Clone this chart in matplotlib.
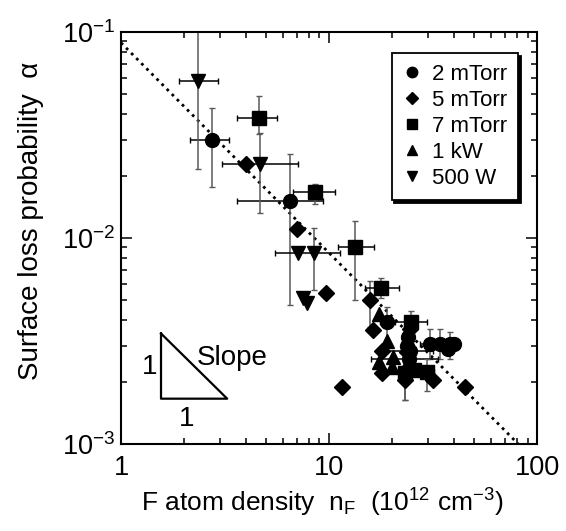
import numpy as np
import matplotlib
matplotlib.use('Agg')
import matplotlib.pyplot as plt
from matplotlib.ticker import LogLocator, FixedLocator, FixedFormatter, NullFormatter

plt.rcParams['font.family'] = ['Liberation Sans', 'DejaVu Sans']
plt.rcParams['mathtext.default'] = 'regular'

# ---- data ----
# 2 mTorr
c_x = [2.73, 6.49, 18.9, 24.0, 23.8, 24.5, 24.2, 30.6, 34.2, 38.2, 39.9, 37.5]
c_y = [0.0299, 0.0152, 0.0039, 0.0033, 0.0030, 0.00284, 0.0026, 0.00305, 0.00305, 0.00305, 0.00305, 0.0029]
c_xlo = [2.15, 3.62, 17.6, np.nan, np.nan, 19.1, 16.0, 27.5, np.nan, np.nan, np.nan, np.nan]
c_xhi = [3.30, 9.33, 20.4, np.nan, np.nan, 31.5, 33.3, 33.5, np.nan, np.nan, np.nan, np.nan]
c_ylo = [0.0177, 0.00473, 0.00321, np.nan, np.nan, np.nan, np.nan, 0.0026, 0.0026, 0.0026, np.nan, np.nan]
c_yhi = [0.0428, 0.0255, 0.00465, np.nan, np.nan, np.nan, np.nan, 0.0036, 0.0036, 0.0035, np.nan, np.nan]

# 5 mTorr
d_x = [3.98, 7.04, 9.64, 11.6, 15.7, 16.3, 17.9, 17.9, 23.2, 24.5, 23.6, 31.7, 45.1]
d_y = [0.0228, 0.0110, 0.0054, 0.0019, 0.0050, 0.00357, 0.00284, 0.00222, 0.00205, 0.0036, 0.0028, 0.00205, 0.0019]
d_xlo = [np.nan] * 13
d_xhi = [np.nan] * 13
d_ylo = [np.nan, np.nan, np.nan, np.nan, 0.0037, np.nan, np.nan, np.nan, 0.00164, np.nan, np.nan, np.nan, np.nan]
d_yhi = [np.nan, np.nan, np.nan, np.nan, 0.0062, np.nan, np.nan, np.nan, 0.0024, np.nan, np.nan, np.nan, np.nan]

# 7 mTorr
s_x = [4.61, 8.57, 13.3, 17.8, 24.8, 23.2, 29.5, 25.5]
s_y = [0.0381, 0.0167, 0.0090, 0.00574, 0.0039, 0.00222, 0.00224, 0.0023]
s_xlo = [3.61, 6.69, 11.0, 14.9, 20.7, np.nan, 27.0, np.nan]
s_xhi = [5.62, 10.7, 16.5, 21.7, 29.5, np.nan, 32.0, np.nan]
s_ylo = [0.0319, 0.0146, 0.0050, 0.0051, 0.0036, 0.00164, 0.0018, np.nan]
s_yhi = [0.0489, 0.0182, 0.0121, 0.00637, 0.0044, 0.0024, 0.0026, np.nan]

# 1 kW
u_x = [17.3, 18.9, 20.4, 17.3, 20.0, 24.0]
u_y = [0.0043, 0.00317, 0.00265, 0.00251, 0.00237, 0.0025]
u_xlo = [np.nan] * 6
u_xhi = [np.nan] * 6
u_ylo = [np.nan] * 6
u_yhi = [np.nan] * 6

# 500 W
v_x = [2.35, 4.66, 7.12, 8.50, 7.5, 7.84]
v_y = [0.0578, 0.0228, 0.00843, 0.00843, 0.0051, 0.00483]
v_xlo = [1.89, 3.05, np.nan, 5.5, np.nan, np.nan]
v_xhi = [2.94, 7.12, np.nan, 11.3, np.nan, np.nan]
v_ylo = [0.0216, 0.0133, np.nan, 0.0056, np.nan, np.nan]
v_yhi = [0.15, 0.0322, np.nan, 0.0112, np.nan, np.nan]

series = [
    ('2 mTorr', 'o', 10, c_x, c_y, c_xlo, c_xhi, c_ylo, c_yhi),
    ('5 mTorr', 'D', 8.5, d_x, d_y, d_xlo, d_xhi, d_ylo, d_yhi),
    ('7 mTorr', 's', 9.5, s_x, s_y, s_xlo, s_xhi, s_ylo, s_yhi),
    ('1 kW', '^', 9.5, u_x, u_y, u_xlo, u_xhi, u_ylo, u_yhi),
    ('500 W', 'v', 9.5, v_x, v_y, v_xlo, v_xhi, v_ylo, v_yhi),
]

# fit line alpha = a * n^b
fit_a = 0.0887
fit_b = -1.02

# slope triangle corners (x, y)
tri_x = [1.557, 1.557, 3.24, 1.557]
tri_y = [0.00344, 0.00166, 0.00166, 0.00344]


def err(v, lo, hi):
    v = np.array(v)
    lo = np.array(lo, dtype=float)
    hi = np.array(hi, dtype=float)
    return np.vstack([np.nan_to_num(v - lo), np.nan_to_num(hi - v)])


fig = plt.figure(figsize=(5.66, 5.31), dpi=100)
ax = fig.add_axes([0.2138, 0.1638, 0.735, 0.7759])

xx = np.logspace(0, 2, 200)
ax.plot(xx, fit_a * xx ** fit_b, color='black', lw=2, ls=(0, (1, 1.6)), zorder=1)

for label, mk, ms, x, y, xlo, xhi, ylo, yhi in series:
    ax.errorbar(x, y, yerr=err(y, ylo, yhi), fmt='none', ecolor='0.35',
                elinewidth=1.1, capsize=2.5, zorder=2)
    ax.errorbar(x, y, xerr=err(x, xlo, xhi), fmt='none', ecolor='black',
                elinewidth=1.1, capsize=2.5, zorder=2)
    ax.plot(x, y, ls='none', marker=mk, ms=ms, color='black', label=label, zorder=3)

ax.plot(tri_x, tri_y, color='black', lw=1.6, zorder=2)
ax.text(1.368, 0.00237, '1', fontsize=20, ha='center', va='center')
ax.text(2.07, 0.00133, '1', fontsize=20, ha='center', va='center')
ax.text(3.41, 0.00262, 'Slope', fontsize=20, ha='center', va='center')

ax.set_xscale('log')
ax.set_yscale('log')
ax.set_xlim(1, 100)
ax.set_ylim(1e-3, 1e-1)

ax.xaxis.set_major_locator(FixedLocator([1, 10, 100]))
ax.xaxis.set_major_formatter(FixedFormatter(['1', '10', '100']))
ax.xaxis.set_minor_locator(LogLocator(base=10, subs=np.arange(2, 10)))
ax.xaxis.set_minor_formatter(NullFormatter())
ax.yaxis.set_minor_locator(LogLocator(base=10, subs=np.arange(2, 10)))
ax.yaxis.set_minor_formatter(NullFormatter())

ax.tick_params(which='both', direction='in', top=True, right=True, width=1.1)
ax.tick_params(which='major', length=8, labelsize=19.5)
ax.tick_params(which='minor', length=4.5)
ax.tick_params(axis='x', which='major', pad=8)
ax.tick_params(axis='y', which='major', pad=4)
for sp in ax.spines.values():
    sp.set_linewidth(1.5)

ax.set_xlabel('F atom density  n$_F$  (10$^{12}$ cm$^{-3}$)', fontsize=19)
ax.set_ylabel('Surface loss probability  \u03b1', fontsize=20)
ax.xaxis.set_label_coords(0.483, -0.105)
ax.yaxis.set_label_coords(-0.185, 0.541)

leg = ax.legend(loc='upper right', bbox_to_anchor=(0.954, 0.949), fontsize=16,
                frameon=True, fancybox=False, edgecolor='black', markerscale=0.75,
                handlelength=0.8, handletextpad=0.5, labelspacing=0.22,
                borderpad=0.5, borderaxespad=0,
                shadow={'color': 'black', 'alpha': 1, 'ox': 2, 'oy': -2})
leg.get_frame().set_linewidth(1.3)

fig.savefig('out.png', dpi=100)
